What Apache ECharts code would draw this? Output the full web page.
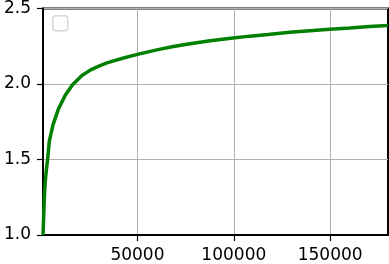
<!DOCTYPE html>
<html>
<head>
<meta charset="utf-8">
<script src="https://cdn.jsdelivr.net/npm/echarts@6/dist/echarts.min.js"></script>
<style>html,body{margin:0;padding:0;background:#fff;}#c{width:389px;height:264px;}</style>
</head>
<body>
<div id="c"></div>
<script>
var xValues = [1000,1300,1700,2200,2700,3380,4265,6180,9080,12550,16330,21200,25500,30000,34150,42750,50500,60050,68650,76420,87700,99600,108400,117700,129100,139500,149800,160200,170500,180000];
var yValues = [1.0,1.1,1.25,1.36,1.425,1.5,1.62,1.729,1.837,1.926,1.995,2.056,2.092,2.118,2.14,2.172,2.198,2.226,2.248,2.265,2.287,2.305,2.317,2.328,2.342,2.353,2.362,2.371,2.38,2.388];
var xTicks = [50000,100000,150000];
var yTicks = [1.0,1.5,2.0,2.5];

var pts = xValues.map(function(x,i){return [x,yValues[i]];});
var chart = echarts.init(document.getElementById('c'), null, {renderer:'canvas'});
var font = 'DejaVu Sans';
chart.setOption({
  animation:false,
  grid:{left:43,right:1,top:6,bottom:29,show:true,borderColor:'#000',borderWidth:2,backgroundColor:'#fff'},
  xAxis:{type:'value',min:1000,max:180000,
    axisLine:{show:true,lineStyle:{color:'#000',width:2}},
    axisTick:{show:true,customValues:xTicks,length:6,lineStyle:{color:'#000',width:1.2}},
    axisLabel:{customValues:xTicks,color:'#000',fontFamily:font,fontSize:17,margin:12,formatter:function(v){return String(v);}},
    splitLine:{show:true,lineStyle:{color:'#b0b0b0',width:1}}
  },
  yAxis:{type:'value',min:yTicks[0],max:yTicks[yTicks.length-1],interval:0.5,
    axisLine:{show:true,lineStyle:{color:'#000',width:2}},
    axisTick:{show:true,length:6,lineStyle:{color:'#000',width:1.2}},
    axisLabel:{color:'#000',fontFamily:font,fontSize:17,margin:12,formatter:function(v){return v.toFixed(1);}},
    splitLine:{show:true,lineStyle:{color:'#b0b0b0',width:1}}
  },
  graphic:[{type:'rect',left:52,top:15,shape:{width:15,height:15,r:3},style:{fill:'#fff',stroke:'#d6d6d6',lineWidth:1.5},z:100}],
  series:[{type:'line',data:pts,showSymbol:false,lineStyle:{color:'#008000',width:3.5},itemStyle:{color:'#008000'},z:3}]
});
</script>
</body>
</html>
